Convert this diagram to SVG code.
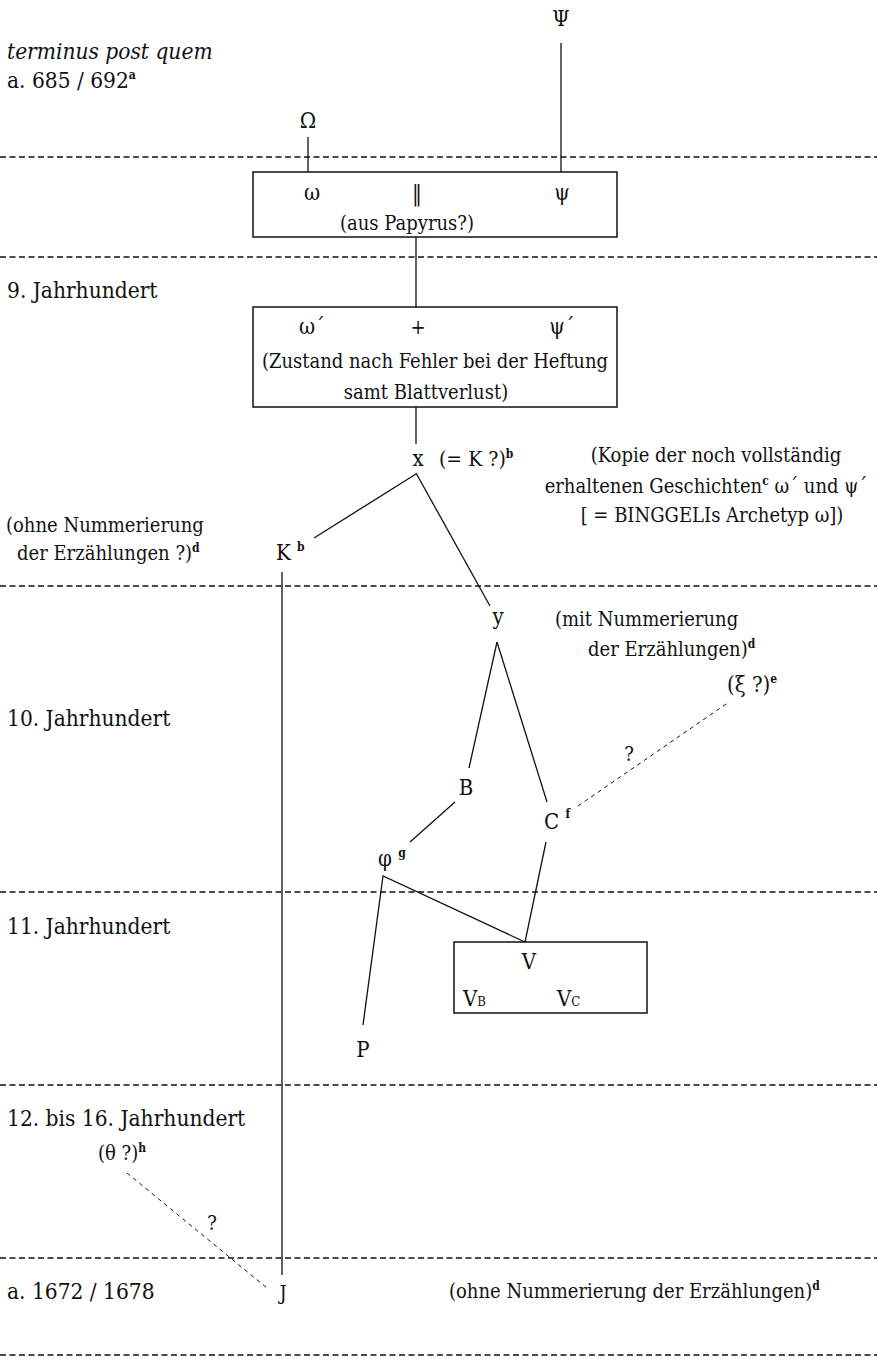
<svg xmlns="http://www.w3.org/2000/svg" width="877" height="1362" viewBox="0 0 877 1362">
<style>
text{font-family:"DejaVu Serif Condensed","DejaVu Serif","Liberation Serif",serif;font-stretch:condensed;font-size:20px;fill:#111}
.lab{font-size:22.5px}
.it{font-style:italic}
.sup{font-size:12px;font-weight:bold}
.sub{font-size:13px}
.nd{font-size:22px}
.mid{text-anchor:middle}
.era{stroke:#111;stroke-width:1.3;stroke-dasharray:6 3.5;fill:none}
.ln{stroke:#111;stroke-width:1.3;fill:none}
.dl{stroke:#111;stroke-width:1;stroke-dasharray:4 4;fill:none}
.box{fill:#fff;stroke:#111;stroke-width:1.5}
</style>
<rect width="877" height="1362" fill="#fff"/>
<g id="eras">
<line class="era" x1="0" y1="157" x2="877" y2="157"/>
<line class="era" x1="0" y1="257" x2="877" y2="257"/>
<line class="era" x1="0" y1="586" x2="877" y2="586"/>
<line class="era" x1="0" y1="892" x2="877" y2="892"/>
<line class="era" x1="0" y1="1085" x2="877" y2="1085"/>
<line class="era" x1="0" y1="1258" x2="877" y2="1258"/>
<line class="era" x1="0" y1="1355" x2="877" y2="1355"/>
<text x="7" y="59" class="it lab">terminus post quem</text>
<text x="7" y="88" class="lab">a. 685 / 692<tspan class="sup" dy="-9">a</tspan></text>
<text x="7" y="298" class="lab">9. Jahrhundert</text>
<text x="7" y="726" class="lab">10. Jahrhundert</text>
<text x="7" y="934" class="lab">11. Jahrhundert</text>
<text x="7" y="1126" class="lab">12. bis 16. Jahrhundert</text>
<text x="7" y="1299" class="lab">a. 1672 / 1678</text>
</g>
<g id="connectors">
<line class="ln" x1="561" y1="43" x2="561" y2="172"/>
<line class="ln" x1="308" y1="137" x2="308" y2="172"/>
<line class="ln" x1="416" y1="237" x2="416" y2="307"/>
<line class="ln" x1="416" y1="407" x2="416" y2="444"/>
<line class="ln" x1="416" y1="474" x2="314" y2="538"/>
<line class="ln" x1="416" y1="473" x2="490" y2="606"/>
<line class="ln" x1="282" y1="572" x2="282" y2="1275"/>
<line class="ln" x1="497" y1="642" x2="469" y2="768"/>
<line class="ln" x1="497" y1="642" x2="547" y2="802"/>
<line class="dl" x1="578" y1="806" x2="729" y2="702"/>
<line class="ln" x1="455" y1="802" x2="410" y2="842"/>
<polyline class="ln" points="363,1025 383,876 525,942 546,842"/>
<line class="dl" x1="127" y1="1173" x2="267" y2="1288"/>
</g>
<g id="Psi"><text x="561" y="26" class="mid nd">Ψ</text></g>
<g id="Omega"><text x="308" y="128" class="mid nd">Ω</text></g>
<g id="box1">
<rect class="box" x="253" y="172" width="364" height="65"/>
<text x="312" y="200" class="mid nd">ω</text>
<text x="417" y="201" class="mid nd">‖</text>
<text x="562" y="200" class="mid nd">ψ</text>
<text x="407" y="230" class="mid">(aus Papyrus?)</text>
</g>
<g id="box2">
<rect class="box" x="253" y="307" width="364" height="100"/>
<text x="312" y="334" class="mid nd">ω´</text>
<text x="418" y="334" class="mid">+</text>
<text x="562" y="334" class="mid nd">ψ´</text>
<text x="435" y="368" class="mid">(Zustand nach Fehler bei der Heftung</text>
<text x="426" y="399" class="mid">samt Blattverlust)</text>
</g>
<g id="x">
<text x="418" y="466" class="mid nd">x</text>
<text x="439" y="466" style="font-size:21px">(= K ?)<tspan class="sup" dy="-8">b</tspan></text>
<text x="716" y="462" class="mid">(Kopie der noch vollständig</text>
<text x="706" y="493" class="mid">erhaltenen Geschichten<tspan class="sup" dy="-8">c</tspan><tspan dy="8"> ω´ und ψ´</tspan></text>
<text x="712" y="522" class="mid">[ = BINGGELIs Archetyp ω])</text>
</g>
<g id="K">
<text x="276" y="560" class="nd">K <tspan class="sup" dy="-9">b</tspan></text>
<text x="6" y="532">(ohne Nummerierung</text>
<text x="17" y="560">der Erzählungen ?)<tspan class="sup" dy="-8">d</tspan></text>
</g>
<g id="y">
<text x="498" y="624" class="mid nd">y</text>
<text x="555" y="626">(mit Nummerierung</text>
<text x="588" y="656">der Erzählungen)<tspan class="sup" dy="-8">d</tspan></text>
</g>
<g id="xi"><text x="727" y="692" class="nd">(ξ ?)<tspan class="sup" dy="-9">e</tspan></text></g>
<g id="q1"><text x="629" y="761" class="mid">?</text></g>
<g id="B"><text x="466" y="795" class="mid nd">B</text></g>
<g id="C"><text x="544" y="829" class="nd">C <tspan class="sup" dy="-11">f</tspan></text></g>
<g id="phi"><text x="378" y="866" class="nd">φ <tspan class="sup" dy="-9">g</tspan></text></g>
<g id="V">
<rect class="box" x="454" y="942" width="193" height="71"/>
<text x="529" y="969" class="mid nd">V</text>
<text x="463" y="1006" class="nd">V<tspan class="sub">B</tspan></text>
<text x="557" y="1006" class="nd">V<tspan class="sub">C</tspan></text>
</g>
<g id="P"><text x="363" y="1057" class="mid nd">P</text></g>
<g id="theta"><text x="98" y="1160">(θ ?)<tspan class="sup" dy="-8">h</tspan></text></g>
<g id="q2"><text x="212" y="1230" class="mid">?</text></g>
<g id="J">
<text x="283" y="1300" class="mid">J</text>
<text x="449" y="1298">(ohne Nummerierung der Erzählungen)<tspan class="sup" dy="-8">d</tspan></text>
</g>
</svg>
